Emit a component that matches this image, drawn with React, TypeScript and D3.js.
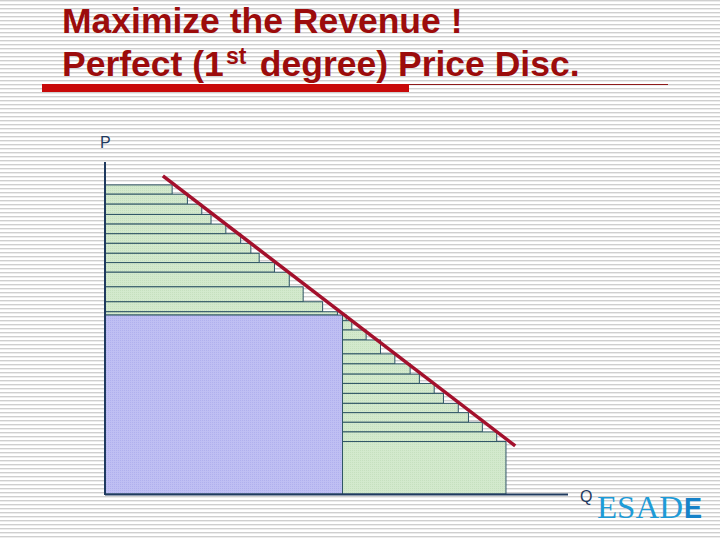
import React from "react";
import * as d3 from "d3";

// ---- Data (quantity Q on x, price P on y) ----
const upperPrices = [93.1, 90.3, 87.3, 84.2, 81.3, 78.4, 75.5, 72.5, 69.7, 66.8, 62.4, 57.9, 54.9];
const upperQty = [14.5, 17.8, 20.9, 22.9, 26.1, 29.3, 31.5, 33.3, 36.6, 39.8, 42.8, 47.0, 50.2];
const blockQty = 51.3;
const blockPrice = 53.9;
const lowerPrices = [53.9, 52.2, 49.4, 46.4, 42.2, 39.2, 36.1, 33.3, 30.3, 27.3, 24.5, 21.6, 18.7, 15.8];
const lowerQty = [52.1, 53.3, 56.4, 59.5, 62.6, 65.9, 67.9, 71.1, 73.1, 76.3, 78.5, 81.5, 84.6, 86.6];
const demandQ = [12.5, 88.6];
const demandP = [95.8, 14.5];
const axisMaxQ = 100;
const axisMaxP = 100;
const titleLine1 = "Maximize the Revenue !";
const titleLine2a = "Perfect (1";
const titleSup = "st";
const titleLine2b = " degree) Price Disc.";
const labelP = "P";
const labelQ = "Q";

const W = 720;
const H = 540;

export default function App() {
  const x = d3.scaleLinear().domain([0, axisMaxQ]).range([105, 568]);
  const y = d3.scaleLinear().domain([0, axisMaxP]).range([494, 162]);

  const upperBars = upperPrices.map((p, i) => {
    const bottom = i < upperPrices.length - 1 ? upperPrices[i + 1] : blockPrice;
    return { x0: 0, x1: upperQty[i], top: p, bottom };
  });
  const lowerBars = lowerPrices.map((p, i) => {
    const bottom = i < lowerPrices.length - 1 ? lowerPrices[i + 1] : 0;
    return { x0: blockQty, x1: lowerQty[i], top: p, bottom };
  });
  const line = d3
    .line<number>()
    .x((_, i) => x(demandQ[i]))
    .y((_, i) => y(demandP[i]));

  const green = "#d3e9cd";
  const stepStroke = "#2f5566";
  const axisColor = "#1f3a5f";
  const titleFont = "'Liberation Sans', Arial, sans-serif";

  return (
    <svg
      width={W}
      height={H}
      style={{ position: "absolute", left: 0, top: 0 }}
      xmlns="http://www.w3.org/2000/svg"
    >
      <defs>
        <pattern id="stripes" width={W} height={4} patternUnits="userSpaceOnUse">
          <rect x={0} y={0} width={W} height={4} fill="#ffffff" />
          <rect x={0} y={0} width={W} height={1} fill="#cfcfcf" />
          <rect x={0} y={1} width={W} height={1} fill="#ececec" />
        </pattern>
        <pattern id="dotsG" width={2} height={2} patternUnits="userSpaceOnUse">
          <rect width={2} height={2} fill={green} />
          <rect width={1} height={1} fill="#c6e0bf" />
        </pattern>
        <pattern id="dotsB" width={2} height={2} patternUnits="userSpaceOnUse">
          <rect width={2} height={2} fill="#bfbff3" />
          <rect width={1} height={1} fill="#b0b0ee" />
        </pattern>
      </defs>
      <rect x={0} y={0} width={W} height={H} fill="url(#stripes)" />

      {/* Title */}
      <g fontFamily={titleFont} fontWeight="bold" fill="#9c0c0c">
        <text x={62} y={33} fontSize={35.5}>{titleLine1}</text>
        <text x={62} y={76} fontSize={35.5}>{titleLine2a}</text>
        <text x={226} y={64} fontSize={23}>{titleSup}</text>
        <text x={250} y={76} fontSize={35.5} style={{ whiteSpace: "pre" }}>{titleLine2b}</text>
      </g>
      <rect x={42} y={84} width={367} height={8} fill="#c80a0a" />
      <line x1={409} x2={668} y1={84.5} y2={84.5} stroke="#8e1b1b" strokeWidth={1} />

      {/* Steps */}
      {upperBars.map((b, i) => (
        <rect
          key={"u" + i}
          x={x(b.x0)}
          y={y(b.top)}
          width={x(b.x1) - x(b.x0)}
          height={y(b.bottom) - y(b.top)}
          fill="url(#dotsG)"
          stroke={stepStroke}
          strokeWidth={1}
        />
      ))}
      <rect
        x={x(0)}
        y={y(blockPrice)}
        width={x(blockQty) - x(0)}
        height={y(0) - y(blockPrice)}
        fill="url(#dotsB)"
        stroke={stepStroke}
        strokeWidth={1}
      />
      {lowerBars.map((b, i) => (
        <rect
          key={"l" + i}
          x={x(b.x0)}
          y={y(b.top)}
          width={x(b.x1) - x(b.x0)}
          height={y(b.bottom) - y(b.top)}
          fill="url(#dotsG)"
          stroke={stepStroke}
          strokeWidth={1}
        />
      ))}

      {/* Demand line */}
      <path d={line([0, 1]) || ""} stroke="#a3102c" strokeWidth={3.5} fill="none" />

      {/* Axes */}
      <line x1={x(0)} x2={x(0)} y1={y(axisMaxP)} y2={y(0) + 1} stroke={axisColor} strokeWidth={2} />
      <line x1={x(0)} x2={x(axisMaxQ)} y1={y(0) + 0.5} y2={y(0) + 0.5} stroke={axisColor} strokeWidth={2} />
      <text x={100} y={148} fontFamily={titleFont} fontSize={16} fill={axisColor}>{labelP}</text>
      <text x={580} y={502} fontFamily={titleFont} fontSize={16} fill={axisColor}>{labelQ}</text>

      {/* Logo */}
      <text x={597} y={518} fontFamily="'Liberation Serif', 'Times New Roman', serif" fontSize={32} fill="#1e9bd7" textLength={86} lengthAdjust="spacingAndGlyphs">ESAD</text>
      <text x={684} y={518} fontFamily={titleFont} fontWeight="bold" fontSize={30} fill="#1682c9" textLength={18} lengthAdjust="spacingAndGlyphs">E</text>
    </svg>
  );
}
